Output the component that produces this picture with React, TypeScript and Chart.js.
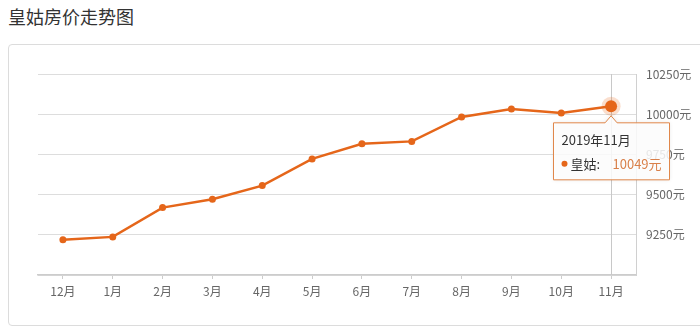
import React, { useEffect, useRef } from "react";
import { Chart, registerables } from "chart.js";

Chart.register(...registerables);

const title = "皇姑房价走势图";
const months = ["12月", "1月", "2月", "3月", "4月", "5月", "6月", "7月", "8月", "9月", "10月", "11月"];
const prices = [9219, 9237, 9419, 9471, 9556, 9722, 9816, 9831, 9983, 10033, 10008, 10049];
const seriesName = "皇姑";
const tooltipTitle = "2019年11月";
const yMin = 9000;
const yMax = 10250;
const yStep = 250;

const ORANGE = "#e5661a";
const FONT = "'Noto Sans CJK SC', 'Noto Sans', sans-serif";

export default function App() {
  const ref = useRef<HTMLCanvasElement | null>(null);

  useEffect(() => {
    if (!ref.current) return;
    const last = prices.length - 1;

    const overlay = {
      id: "overlay",
      beforeDatasetsDraw(chart: any) {
        const { ctx, chartArea } = chart;
        const el = chart.getDatasetMeta(0).data[last];
        ctx.save();
        ctx.strokeStyle = "#c8c8c8";
        ctx.lineWidth = 1;
        ctx.beginPath();
        ctx.moveTo(Math.round(el.x) + 0.5, chartArea.top);
        ctx.lineTo(Math.round(el.x) + 0.5, chartArea.bottom);
        ctx.stroke();
        ctx.restore();
      },
      afterDraw(chart: any) {
        const { ctx } = chart;
        const el = chart.getDatasetMeta(0).data[last];
        ctx.save();
        // halo
        ctx.fillStyle = "rgba(232,105,26,0.22)";
        ctx.beginPath();
        ctx.arc(el.x, el.y, 9.5, 0, Math.PI * 2);
        ctx.fill();
        ctx.fillStyle = ORANGE;
        ctx.beginPath();
        ctx.arc(el.x, el.y, 6, 0, Math.PI * 2);
        ctx.fill();

        // tooltip box
        const bx = 553.5;
        const by = el.y + 16.5;
        const bw = 116;
        const bh = 57;
        const ax = el.x;
        ctx.shadowColor = "rgba(0,0,0,0.12)";
        ctx.shadowBlur = 4;
        ctx.fillStyle = "rgba(255,255,255,0.85)";
        ctx.strokeStyle = "#e0874a";
        ctx.lineWidth = 1;
        ctx.beginPath();
        ctx.moveTo(bx, by);
        ctx.lineTo(ax - 6, by);
        ctx.lineTo(ax, by - 7);
        ctx.lineTo(ax + 6, by);
        ctx.lineTo(bx + bw, by);
        ctx.lineTo(bx + bw, by + bh);
        ctx.lineTo(bx, by + bh);
        ctx.closePath();
        ctx.fill();
        ctx.shadowColor = "transparent";
        ctx.stroke();

        ctx.textBaseline = "middle";
        ctx.font = `13px ${FONT}`;
        ctx.fillStyle = "#333333";
        ctx.fillText(tooltipTitle, bx + 8, by + 17);
        ctx.fillStyle = ORANGE;
        ctx.beginPath();
        ctx.arc(bx + 11, by + 41, 3, 0, Math.PI * 2);
        ctx.fill();
        ctx.fillStyle = "#333333";
        ctx.fillText(seriesName + ":", bx + 17, by + 41);
        ctx.fillStyle = "#d9804a";
        ctx.fillText(prices[last] + "元", bx + 59, by + 41);
        ctx.restore();
      },
    };

    const chart = new Chart(ref.current, {
      type: "line",
      data: {
        labels: months,
        datasets: [
          {
            label: seriesName,
            data: prices,
            borderColor: ORANGE,
            backgroundColor: ORANGE,
            borderWidth: 2.5,
            pointRadius: (c: any) => (c.dataIndex === last ? 0 : 3.5),
            pointBackgroundColor: ORANGE,
            pointBorderWidth: 0,
            tension: 0,
          },
        ],
      },
      options: {
        animation: false,
        responsive: false,
        events: [],
        layout: { padding: { left: 38, top: 74, right: 0, bottom: 0 } },
        plugins: { legend: { display: false }, tooltip: { enabled: false } },
        scales: {
          x: {
            offset: true,
            grid: {
              offset: false,
              drawOnChartArea: false,
              drawTicks: true,
              tickLength: 4,
              color: "#cccccc",
            },
            border: { color: "#cccccc", width: 1.5 },
            ticks: { color: "#666666", font: { family: FONT, size: 12 }, padding: 5, maxRotation: 0, autoSkip: false },
            afterFit: (s: any) => {
              s.height = 57;
            },
          },
          y: {
            position: "right",
            min: yMin,
            max: yMax,
            grid: { color: "#dddddd", drawTicks: false },
            border: { color: "#d0d0d0", width: 1 },
            ticks: {
              stepSize: yStep,
              padding: 10,
              color: "#666666",
              font: { family: FONT, size: 12 },
              callback: (v: any) => (v === yMin ? "" : v + "元"),
            },
            afterFit: (s: any) => {
              s.width = 64;
            },
          },
        },
      },
      plugins: [overlay],
    } as any);
    return () => chart.destroy();
  }, []);

  return (
    <div style={{ position: "fixed", left: 0, top: 0, width: 700, height: 332, overflow: "hidden", background: "#fff" }}>
      <div
        style={{
          position: "absolute",
          left: 8,
          top: 2,
          fontFamily: FONT,
          fontSize: 18,
          lineHeight: "28px",
          color: "#333",
        }}
      >
        {title}
      </div>
      <div
        style={{
          position: "absolute",
          left: 8,
          top: 44,
          width: 720,
          height: 280,
          border: "1px solid #dcdcdc",
          borderRadius: 4,
        }}
      />
      <canvas ref={ref} width={700} height={332} style={{ position: "absolute", left: 0, top: 0 }} />
    </div>
  );
}
